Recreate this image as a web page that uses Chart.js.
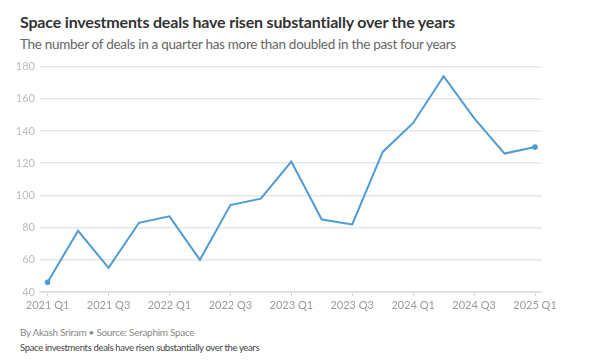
<!DOCTYPE html>
<html>
<head>
<meta charset="utf-8">
<script src="https://cdn.jsdelivr.net/npm/chart.js@4.4.1/dist/chart.umd.min.js"></script>
<style>
  html, body { margin: 0; padding: 0; background: #fff; }
  body { width: 615px; height: 360px; position: relative; overflow: hidden; font-family: Lato, "Noto Sans", sans-serif; }
  .title { position: absolute; left: 20px; top: 12px; font-size: 16px; letter-spacing: -0.18px; font-weight: bold; color: #333; white-space: nowrap; }
  .subtitle { position: absolute; left: 20px; top: 36px; font-size: 13.5px; letter-spacing: -0.3px; color: #666; white-space: nowrap; }
  .chart { position: absolute; left: 0; top: 55px; width: 560px; height: 260px; }
  .source { position: absolute; left: 20px; top: 326px; font-size: 10px; letter-spacing: -0.3px; color: #888; white-space: nowrap; }
  .note { position: absolute; left: 20px; top: 342px; font-size: 9.5px; letter-spacing: -0.35px; color: #444; white-space: nowrap; }
</style>
</head>
<body>
<div class="title">Space investments deals have risen substantially over the years</div>
<div class="subtitle">The number of deals in a quarter has more than doubled in the past four years</div>
<div class="chart"><canvas id="lineChart"></canvas></div>
<div class="source">By Akash Sriram • Source: Seraphim Space</div>
<div class="note">Space investments deals have risen substantially over the years</div>

<script>
var quarters = [
  '2021 Q1', '2021 Q2', '2021 Q3', '2021 Q4',
  '2022 Q1', '2022 Q2', '2022 Q3', '2022 Q4',
  '2023 Q1', '2023 Q2', '2023 Q3', '2023 Q4',
  '2024 Q1', '2024 Q2', '2024 Q3', '2024 Q4',
  '2025 Q1'
];
var deals = [46, 78, 55, 83, 87, 60, 94, 98, 121, 85, 82, 127, 145, 174, 148, 126, 130];
var yTicks = [40, 60, 80, 100, 120, 140, 160, 180];

var points = deals.map(function (v, i) { return { x: i, y: v }; });
var lastIndex = deals.length - 1;

var ctx = document.getElementById('lineChart');
var lineChart = new Chart(ctx, {
  type: 'line',
  data: {
    datasets: [{
      label: 'Deals',
      data: points,
      borderColor: '#4f9bd4',
      backgroundColor: '#4f9bd4',
      borderWidth: 2,
      tension: 0,
      fill: false,
      pointRadius: function (c) { return (c.dataIndex === 0 || c.dataIndex === lastIndex) ? 2.8 : 0; },
      pointBorderWidth: 0,
      pointHoverRadius: 0
    }]
  },
  options: {
    responsive: true,
    maintainAspectRatio: false,
    animation: false,
    layout: { padding: { top: 11, right: 18, left: 0, bottom: 0 } },
    plugins: { legend: { display: false }, tooltip: { enabled: false } },
    scales: {
      x: {
        type: 'linear',
        min: -0.25,
        max: lastIndex + 0.21,
        afterBuildTicks: function (scale) {
          scale.ticks = quarters.map(function (q, i) { return { value: i }; })
            .filter(function (t) { return t.value % 2 === 0; });
        },
        afterFit: function (scale) { scale.height = 23; },
        grid: {
          display: true,
          drawOnChartArea: false,
          drawTicks: true,
          tickLength: 4,
          color: '#d0d0d0'
        },
        border: { display: true, color: '#dcdcdc', width: 1.5 },
        ticks: {
          autoSkip: false,
          maxRotation: 0,
          padding: 3,
          color: '#9a9a9a',
          font: { family: 'Lato', size: 11 },
          callback: function (v) { return quarters[v]; }
        }
      },
      y: {
        min: 40,
        max: 180,
        afterBuildTicks: function (scale) {
          scale.ticks = yTicks.map(function (v) { return { value: v }; });
        },
        afterFit: function (scale) { scale.width = 40; },
        grid: { color: '#e6e6e6', lineWidth: 1.5, drawTicks: false },
        border: { display: false },
        ticks: {
          padding: 5,
          color: '#bdbdbd',
          font: { family: 'Lato', size: 11 }
        }
      }
    }
  }
});
</script>
</body>
</html>
